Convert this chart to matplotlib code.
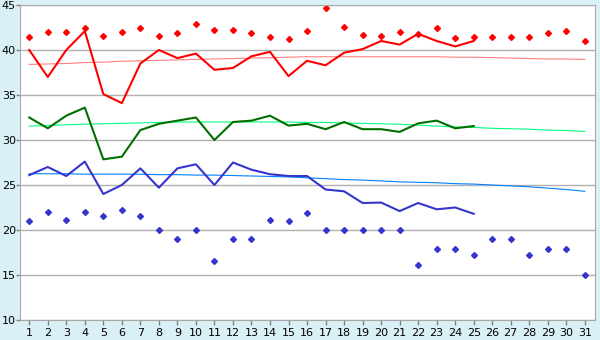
import matplotlib
matplotlib.use("Agg")
import matplotlib.pyplot as plt

# days of the month
days = list(range(1, 32))

# daily values (first 25 days observed)
obs_days = list(range(1, 26))
high = [40.0, 37.0, 40.0, 42.1, 35.1, 34.1, 38.5, 40.0, 39.1, 39.6,
        37.8, 38.0, 39.3, 39.8, 37.1, 38.8, 38.3, 39.7, 40.1, 41.0,
        40.6, 41.8, 41.0, 40.4, 41.0]
mean = [32.5, 31.3, 32.7, 33.6, 27.85, 28.15, 31.1, 31.8, 32.15, 32.5,
        30.0, 32.0, 32.15, 32.7, 31.6, 31.8, 31.2, 32.0, 31.2, 31.2,
        30.9, 31.85, 32.15, 31.3, 31.55]
low = [26.1, 27.0, 26.0, 27.6, 24.0, 25.0, 26.85, 24.7, 26.85, 27.3,
       25.0, 27.5, 26.7, 26.2, 26.0, 26.0, 24.5, 24.3, 23.0, 23.05,
       22.1, 23.0, 22.3, 22.5, 21.8]

# normals for each day
high_normal = [38.4, 38.45, 38.5, 38.6, 38.65, 38.75, 38.8, 38.85, 38.9, 38.95,
               39.0, 39.05, 39.1, 39.15, 39.2, 39.25, 39.25, 39.25, 39.25, 39.25,
               39.25, 39.25, 39.25, 39.2, 39.2, 39.15, 39.1, 39.05, 39.0, 39.0, 38.95]
mean_normal = [31.55, 31.6, 31.7, 31.75, 31.8, 31.85, 31.9, 31.95, 32.0, 32.0,
               32.0, 32.0, 32.0, 32.0, 32.0, 31.95, 31.95, 31.9, 31.85, 31.8,
               31.75, 31.65, 31.55, 31.45, 31.4, 31.3, 31.25, 31.2, 31.1, 31.05, 30.95]
low_normal = [26.25, 26.25, 26.25, 26.2, 26.2, 26.2, 26.2, 26.15, 26.15, 26.1,
              26.1, 26.05, 26.0, 25.95, 25.9, 25.8, 25.7, 25.6, 25.55, 25.45,
              25.35, 25.3, 25.25, 25.15, 25.1, 25.0, 24.9, 24.8, 24.65, 24.5, 24.3]

# record values
record_high = [41.4, 42.0, 42.0, 42.5, 41.6, 42.0, 42.5, 41.6, 41.85, 42.85,
               42.2, 42.2, 41.85, 41.5, 41.2, 42.1, 44.7, 42.6, 41.7, 41.6,
               42.0, 41.8, 42.5, 41.3, 41.5, 41.5, 41.4, 41.5, 41.85, 42.1, 41.0]
record_low = [21.0, 22.0, 21.1, 22.0, 21.6, 22.2, 21.6, 20.0, 19.0, 20.0,
              16.6, 19.0, 19.0, 21.1, 21.0, 21.9, 20.0, 20.0, 20.0, 20.0,
              20.0, 16.1, 17.85, 17.85, 17.2, 19.0, 19.0, 17.2, 17.85, 17.85, 15.0]

fig = plt.figure(figsize=(6.0, 3.4), dpi=100, facecolor="#d9f0f7")
ax = fig.add_axes([20 / 600, 20 / 340, 575 / 600, 315 / 340])
ax.set_facecolor("white")

ax.yaxis.grid(True, color="#b0b0b0", linewidth=1.0)
ax.set_axisbelow(True)

# normals
ax.plot(days, high_normal, color="#ff8080", linewidth=0.8)
ax.plot(days, mean_normal, color="#00ff80", linewidth=0.8)
ax.plot(days, low_normal, color="#0080ff", linewidth=0.8)

# daily lines
ax.plot(obs_days, high, color="#ff0000", linewidth=1.5)
ax.plot(obs_days, mean, color="#006f00", linewidth=1.5)
ax.plot(obs_days, low, color="#3535cc", linewidth=1.5)

# records
ax.plot(days, record_high, linestyle="none", marker="D", markersize=3.0,
        color="#ff0000")
ax.plot(days, record_low, linestyle="none", marker="D", markersize=3.0,
        color="#3535cc")

ax.set_xlim(0.5, 31.55)
ax.set_ylim(10, 45)
ax.set_xticks(days)
ax.set_yticks(range(10, 46, 5))

for s in ax.spines.values():
    s.set_color("#a8a8a8")
ax.tick_params(axis="both", colors="#808080", labelcolor="black",
               labelsize=8, length=3.5, width=1)
ax.tick_params(axis="x", pad=2)
ax.tick_params(axis="y", length=3, pad=0)

fig.savefig("out.png", dpi=100, facecolor=fig.get_facecolor())
